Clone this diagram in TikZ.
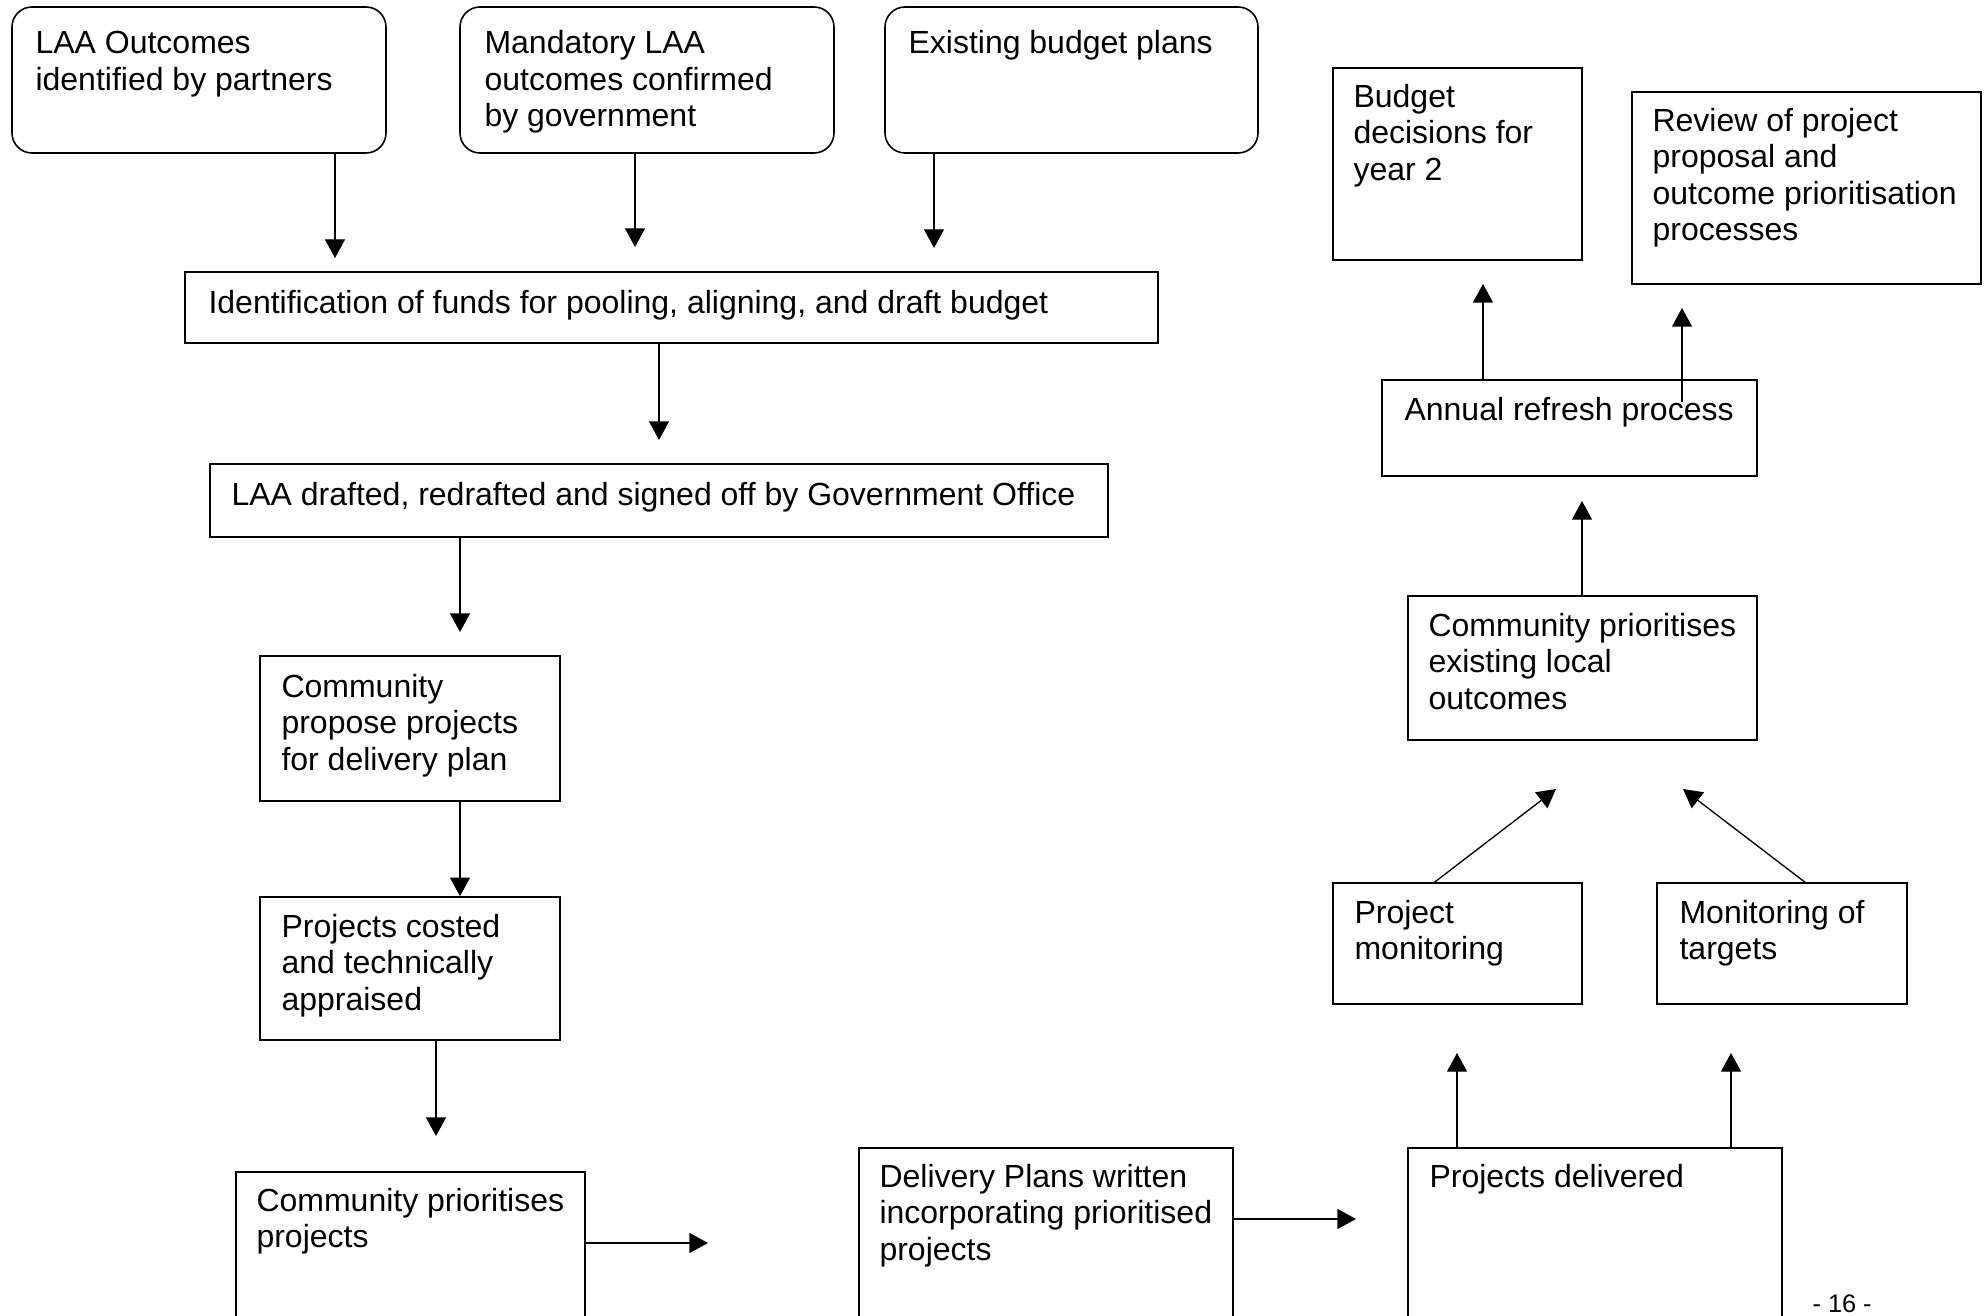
\documentclass[tikz,border=0pt]{standalone}
\usepackage{fontspec}
\setmainfont{Liberation Sans}
\usetikzlibrary{arrows.meta,fit}
% zero-width strut that fixes the height of a node's first line
\newcommand{\firstline}{\rule{0pt}{10pt}}
\begin{document}
\begin{tikzpicture}[x=0.375pt,y=-0.375pt,
  box/.style={draw, line width=0.6pt, inner sep=0pt},
  rbox/.style={box, rounded corners=7.5pt},
  txt/.style={anchor=north west, inner sep=0pt, align=left,
              font=\fontsize{12pt}{13.6pt}\selectfont},
  arr/.style={-{Triangle[width=7.5pt,length=7pt]}, line width=0.5pt}
]
\useasboundingbox (0,0) rectangle (1988,1315);
\clip (0,0) rectangle (1988,1315);

% ---- boxes ----
\node[rbox, fit={(12,7) (386,153)}]   (A) {};
\node[rbox, fit={(460,7) (834,153)}]  (B) {};
\node[rbox, fit={(885,7) (1258,153)}] (C) {};
\node[box, fit={(185,272) (1158,343)}] (D) {};
\node[box, fit={(210,464) (1108,537)}] (E) {};
\node[box, fit={(260,656) (560,801)}]  (F) {};
\node[box, fit={(260,897) (560,1040)}] (G) {};
\node[box, fit={(236,1172) (585,1400)}] (H) {};
\node[box, fit={(859,1148) (1233,1400)}] (I) {};
\node[box, fit={(1408,1148) (1782,1400)}] (J) {};
\node[box, fit={(1333,883) (1582,1004)}] (K) {};
\node[box, fit={(1657,883) (1907,1004)}] (L) {};
\node[box, fit={(1408,596) (1757,740)}] (M) {};
\node[box, fit={(1382,380) (1757,476)}] (N) {};
\node[box, fit={(1333,68) (1582,260)}]  (O) {};
\node[box, fit={(1632,92) (1981,284)}]  (P) {};

% ---- texts ----
\node[txt] (tA) at (35,26.6)   {\firstline LAA Outcomes\\identified by partners};
\node[txt] (tB) at (484,26.6)  {\firstline Mandatory LAA\\outcomes confirmed\\by government};
\node[txt] (tC) at (908,26.6)  {\firstline Existing budget plans};
\node[txt] (tD) at (208,286.3) {\firstline Identification of funds for pooling, aligning, and draft budget};
\node[txt] (tE) at (231,478.3) {\firstline LAA drafted, redrafted and signed off by Government Office};
\node[txt] (tF) at (281,670.3) {\firstline Community\\propose projects\\for delivery plan};
\node[txt] (tG) at (281,910.3) {\firstline Projects costed\\and technically\\appraised};
\node[txt] (tH) at (256,1184.3) {\firstline Community prioritises\\projects};
\node[txt] (tI) at (879,1160.3) {\firstline Delivery Plans written\\incorporating prioritised\\projects};
\node[txt] (tJ) at (1429,1160.3) {\firstline Projects delivered};
\node[txt] (tK) at (1354,896.3) {\firstline Project\\monitoring};
\node[txt] (tL) at (1679,896.3) {\firstline Monitoring of\\targets};
\node[txt] (tM) at (1428,609.3) {\firstline Community prioritises\\existing local\\outcomes};
\node[txt] (tN) at (1404,393.3) {\firstline Annual refresh process};
\node[txt] (tO) at (1353,80.3)  {\firstline Budget\\decisions for\\year 2};
\node[txt] (tP) at (1652,104.3) {\firstline Review of project\\proposal and\\outcome prioritisation\\processes};

\node[anchor=base west, inner sep=0pt, font=\fontsize{9.5pt}{11pt}\selectfont] (page) at (1812,1312) {- 16 -};

% ---- arrow end points ----
\coordinate (pA) at (335,258);
\coordinate (pB) at (635,247);
\coordinate (pC) at (934,248);
\coordinate (pD) at (659,440);
\coordinate (pE) at (460,632);
\coordinate (pF) at (460,0);
\coordinate (pG) at (436,1136);
\coordinate (pH) at (708,1243);
\coordinate (pI) at (1356,1219);
\coordinate (pJ1) at (1457,1053);
\coordinate (pJ2) at (1731,1053);
\coordinate (sK) at (1433.5,883);
\coordinate (pK) at (1556,789);
\coordinate (sL) at (1806,883);
\coordinate (pL) at (1683,789);
\coordinate (pM) at (1582,501);
\coordinate (pN1) at (1483,284);
\coordinate (sN2) at (1682,402);
\coordinate (pN2) at (1682,308);

% ---- connectors ----
\draw[arr] (A.south -| pA) -- (pA);
\draw[arr] (B.south -| pB) -- (pB);
\draw[arr] (C.south -| pC) -- (pC);
\draw[arr] (D.south -| pD) -- (pD);
\draw[arr] (E.south -| pE) -- (pE);
\draw[arr] (F.south -| pF) -- (G.north -| pF);
\draw[arr] (G.south -| pG) -- (pG);
\draw[arr] (H.east |- pH) -- (pH);
\draw[arr] (I.east |- pI) -- (pI);
\draw[arr] (J.north -| pJ1) -- (pJ1);
\draw[arr] (J.north -| pJ2) -- (pJ2);
\draw[arr] (sK) -- (pK);
\draw[arr] (sL) -- (pL);
\draw[arr] (M.north -| pM) -- (pM);
\draw[arr] (N.north -| pN1) -- (pN1);
\draw[arr] (sN2) -- (pN2);
\end{tikzpicture}
\end{document}
